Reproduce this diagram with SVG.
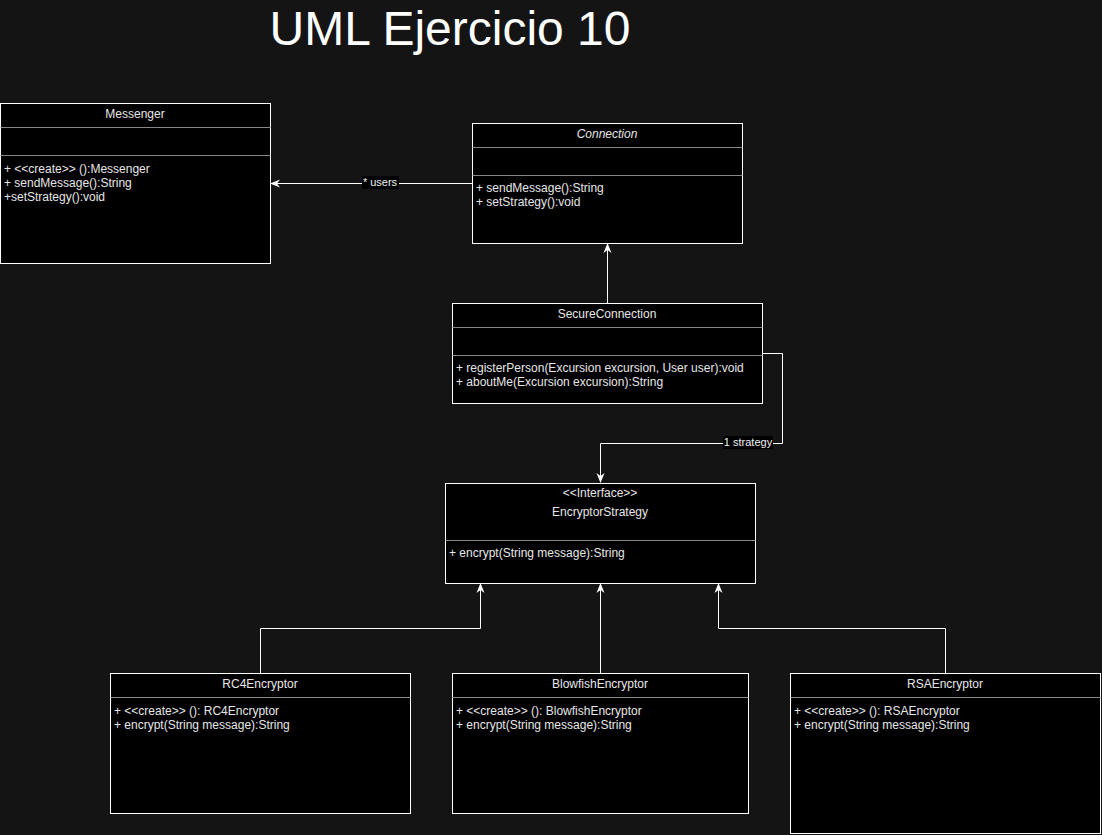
<svg xmlns="http://www.w3.org/2000/svg" width="1102" height="835" viewBox="0 0 1102 835">
<style>
.box{fill:#000;stroke:#fff;stroke-width:1}
.sep{stroke:#888;stroke-width:1}
.t{font-family:"Liberation Sans",Arial,sans-serif;font-size:12px;fill:#e6e6e6}
.c{text-anchor:middle}
.edge{fill:none;stroke:#fff;stroke-width:1}
.lbl{font-family:"Liberation Sans",Arial,sans-serif;font-size:11px;fill:#f0f0f0;text-anchor:middle}
</style>
<defs>
<marker id="ah" viewBox="0 0 10 10" refX="9" refY="5" markerWidth="10" markerHeight="10" markerUnits="userSpaceOnUse" orient="auto">
<path d="M0,1 L10,5 L0,9 L3,5 z" fill="#fff"/>
</marker>
</defs>
<rect width="1102" height="835" fill="#141414"/>
<text x="450" y="45" text-anchor="middle" font-family="Liberation Sans,Arial,sans-serif" font-size="48" fill="#fff">UML Ejercicio 10</text>

<g id="connectors">
<line class="edge" x1="472" y1="183.5" x2="271" y2="183.5" marker-end="url(#ah)"/>
<rect x="362" y="176" width="37" height="13" fill="#000"/>
<text class="lbl" x="380" y="186">* users</text>
<line class="edge" x1="607.5" y1="303" x2="607.5" y2="244" marker-end="url(#ah)"/>
<polyline class="edge" points="762,353.5 782.5,353.5 782.5,443.5 600.5,443.5 600.5,482" marker-end="url(#ah)"/>
<rect x="723" y="436" width="50" height="13" fill="#000"/>
<text class="lbl" x="748" y="446">1 strategy</text>
<polyline class="edge" points="260.5,673 260.5,628.5 480.5,628.5 480.5,584" marker-end="url(#ah)"/>
<line class="edge" x1="600.5" y1="673" x2="600.5" y2="584" marker-end="url(#ah)"/>
<polyline class="edge" points="945.5,673 945.5,628.5 718.5,628.5 718.5,584" marker-end="url(#ah)"/>
</g>

<g id="Messenger">
<rect class="box" x="0.5" y="103.5" width="270" height="160"/>
<line class="sep" x1="0.5" y1="127.5" x2="270.5" y2="127.5"/>
<line class="sep" x1="0.5" y1="155.5" x2="270.5" y2="155.5"/>
<text class="t c" x="135" y="118">Messenger</text>
<text class="t" x="4" y="173">+ &lt;&lt;create&gt;&gt; ():Messenger</text>
<text class="t" x="4" y="187">+ sendMessage():String</text>
<text class="t" x="4" y="201">+setStrategy():void</text>
</g>

<g id="Connection">
<rect class="box" x="472.5" y="123.5" width="270" height="120"/>
<line class="sep" x1="472.5" y1="147.5" x2="742.5" y2="147.5"/>
<line class="sep" x1="472.5" y1="175.5" x2="742.5" y2="175.5"/>
<text class="t c" x="607" y="138" font-style="italic">Connection</text>
<text class="t" x="476" y="192">+ sendMessage():String</text>
<text class="t" x="476" y="206">+ setStrategy():void</text>
</g>

<g id="SecureConnection">
<rect class="box" x="452.5" y="303.5" width="310" height="100"/>
<line class="sep" x1="452.5" y1="327.5" x2="762.5" y2="327.5"/>
<line class="sep" x1="452.5" y1="355.5" x2="762.5" y2="355.5"/>
<text class="t c" x="607" y="318">SecureConnection</text>
<text class="t" x="456" y="372">+ registerPerson(Excursion excursion, User user):void</text>
<text class="t" x="456" y="386">+ aboutMe(Excursion excursion):String</text>
</g>

<g id="EncryptorStrategy">
<rect class="box" x="445.5" y="483.5" width="310" height="100"/>
<line class="sep" x1="445.5" y1="540.5" x2="755.5" y2="540.5"/>
<text class="t c" x="600" y="497" font-size="11">&lt;&lt;Interface&gt;&gt;</text>
<text class="t c" x="600" y="516">EncryptorStrategy</text>
<text class="t" x="449" y="557">+ encrypt(String message):String</text>
</g>

<g id="RC4Encryptor">
<rect class="box" x="110.5" y="673.5" width="300" height="140"/>
<line class="sep" x1="110.5" y1="697.5" x2="410.5" y2="697.5"/>
<text class="t c" x="260" y="688">RC4Encryptor</text>
<text class="t" x="114" y="715">+ &lt;&lt;create&gt;&gt; (): RC4Encryptor</text>
<text class="t" x="114" y="729">+ encrypt(String message):String</text>
</g>

<g id="BlowfishEncryptor">
<rect class="box" x="452.5" y="673.5" width="296" height="140"/>
<line class="sep" x1="452.5" y1="697.5" x2="748.5" y2="697.5"/>
<text class="t c" x="600" y="688">BlowfishEncryptor</text>
<text class="t" x="456" y="715">+ &lt;&lt;create&gt;&gt; (): BlowfishEncryptor</text>
<text class="t" x="456" y="729">+ encrypt(String message):String</text>
</g>

<g id="RSAEncryptor">
<rect class="box" x="790.5" y="673.5" width="310" height="160"/>
<line class="sep" x1="790.5" y1="697.5" x2="1100.5" y2="697.5"/>
<text class="t c" x="945" y="688">RSAEncryptor</text>
<text class="t" x="794" y="715">+ &lt;&lt;create&gt;&gt; (): RSAEncryptor</text>
<text class="t" x="794" y="729">+ encrypt(String message):String</text>
</g>
</svg>
